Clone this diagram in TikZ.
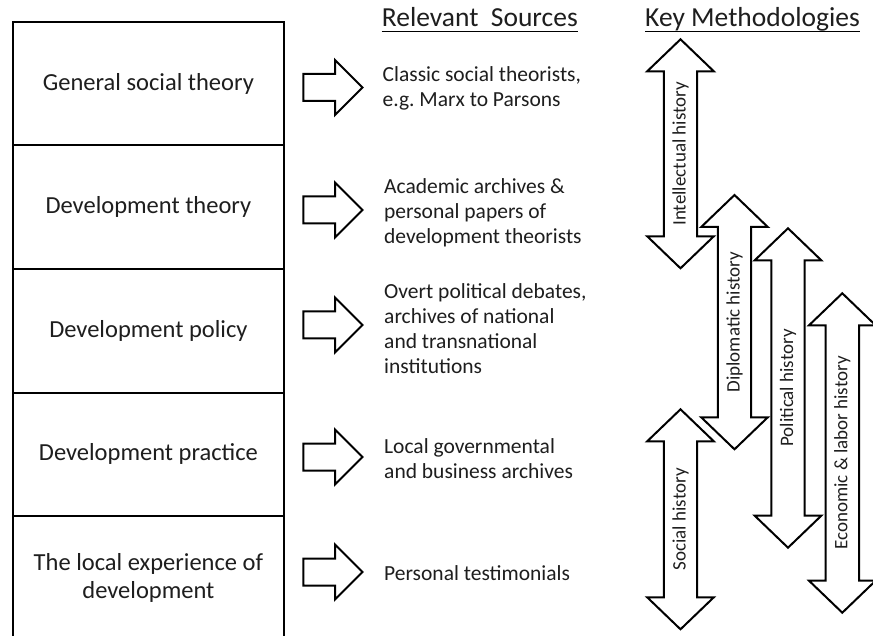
\documentclass[tikz,border=0pt]{standalone}
\usepackage{fontspec}
\setmainfont{Carlito}
\definecolor{ink}{HTML}{1E1E1E}
\tikzset{
  blk/.style={draw=black, fill=white, line width=2pt, line join=miter},
  boxstyle/.style={draw=black, line width=2pt, minimum width=271.8pt, minimum height=123.5pt,
    inner sep=0pt, align=center, text=ink, font=\fontsize{24.5}{28}\selectfont},
  srcstyle/.style={anchor=west, inner sep=0pt, align=left, text=ink, font=\fontsize{21.5}{25}\selectfont},
  headstyle/.style={anchor=base west, inner sep=0pt, text=ink, font=\fontsize{27.5}{30}\selectfont},
  lblstyle/.style={rotate=90, inner sep=0pt, text=ink, font=\fontsize{19}{22}\selectfont},
  rblk/.pic={\draw[blk] (0,-13.5) -- (31.7,-13.5) -- (31.7,-27.5) -- (59.2,0) -- (31.7,27.5) -- (31.7,13.5) -- (0,13.5) -- cycle;}
}
\newcommand\dblarr[5]{%
  \draw[blk] (#2,#3) -- ({#2+33.3},{#3+32}) -- ({#2+16.7},{#3+32}) -- ({#2+16.7},{#4-32})
    -- ({#2+33.3},{#4-32}) -- (#2,#4) -- ({#2-33.3},{#4-32}) -- ({#2-16.7},{#4-32})
    -- ({#2-16.7},{#3+32}) -- ({#2-33.3},{#3+32}) -- cycle;
  \node[lblstyle] (#1) at (#2,{(#3+#4)/2}) {#5};}
\begin{document}
\begin{tikzpicture}[x=1pt,y=-1pt]
\useasboundingbox (0,0) rectangle (873,636);
\clip (0,0) rectangle (873,636);
\fill[white] (0,0) rectangle (873,636);
% left column
\node[boxstyle] (b1) at (148.4,83.75) {General social theory};
\node[boxstyle] (b2) at (148.4,207.25) {Development theory};
\node[boxstyle] (b3) at (148.4,330.75) {Development policy};
\node[boxstyle] (b4) at (148.4,454.25) {Development practice};
\node[boxstyle] (b5) at (148.4,577.75) {The local experience of\\development};
% headers
\node[headstyle] (h1) at (381.7,26.7) {Relevant\ \ Sources};
\draw[line width=1.6pt] ([yshift=-5pt]h1.base west) -- ([yshift=-5pt]h1.base east);
\node[headstyle] (h2) at (645,26.7) {Key Methodologies};
\draw[line width=1.6pt] ([yshift=-5pt]h2.base west) -- ([yshift=-5pt]h2.base east);
% block arrows
\pic at (303.3,87.5) {rblk};
\pic at (303.3,210) {rblk};
\pic at (303.3,325) {rblk};
\pic at (303.3,457) {rblk};
\pic at (303.3,572) {rblk};
% sources
\node[srcstyle] (s1) at (382.5,88) {Classic social theorists,\\e.g.\ Marx to Parsons};
\node[srcstyle] (s2) at (384,212.5) {Academic archives \&\\personal papers of\\development theorists};
\node[srcstyle] (s3) at (384,329) {Overt political debates,\\archives of national\\and transnational\\institutions};
\node[srcstyle] (s4) at (384,459) {Local governmental\\and business archives};
\node[srcstyle] (s5) at (384,573) {Personal testimonials};
% methodologies
\dblarr{m1}{680.5}{39.3}{268.3}{Intellectual history}
\dblarr{m2}{734.5}{195}{449.3}{Diplomatic history}
\dblarr{m3}{788}{228.3}{547.7}{Political history}
\dblarr{m4}{842.3}{293.3}{612.7}{Economic \& labor history}
\dblarr{m5}{680.5}{409.3}{629.3}{Social history}
\end{tikzpicture}
\end{document}
